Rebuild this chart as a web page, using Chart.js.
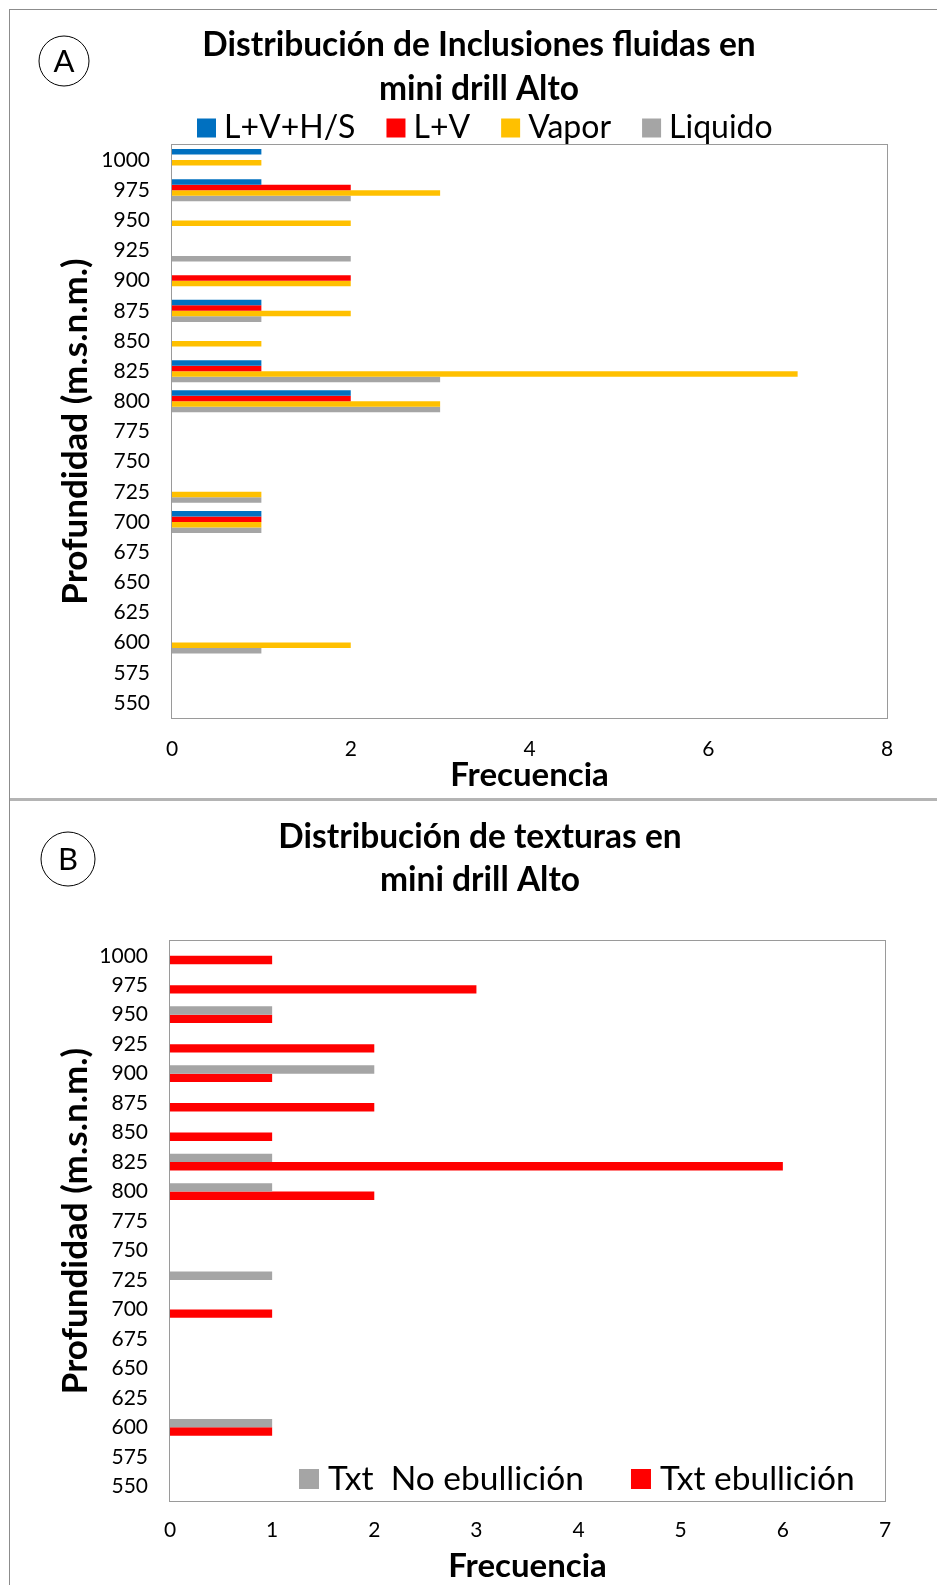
<!DOCTYPE html>
<html lang="es">
<head>
<meta charset="utf-8">
<title>Mini drill Alto</title>
<script src="https://cdn.jsdelivr.net/npm/chart.js@4.4.1/dist/chart.umd.min.js"></script>
<style>
    html, body { margin: 0; padding: 0; background: #fff; width: 937px; height: 1585px; overflow: hidden; }
    .frame { position: absolute; left: 9px; top: 9px; width: 928px; height: 1576px;
             border-left: 1px solid #8c8c8c; border-top: 1px solid #8c8c8c; }
    .split { position: absolute; left: 10px; top: 798px; width: 927px; height: 3px; background: #b4b4b4; }
    canvas { position: absolute; left: 10px; }
    #chartA { top: 10px; }
    #chartB { top: 801px; }
</style>
</head>
<body>
<div class="frame"></div>
<div class="split"></div>
<canvas id="chartA" width="927" height="788"></canvas>
<canvas id="chartB" width="927" height="784"></canvas>

<script>
/* ---------- Data ---------- */
const depths = ['1000', '975', '950', '925', '900', '875', '850', '825', '800', '775',
                '750', '725', '700', '675', '650', '625', '600', '575', '550'];

// A: fluid inclusions per depth
const incLVHS    = [1, 1, 0, 0, 0, 1, 0, 1, 2, 0, 0, 0, 1, 0, 0, 0, 0, 0, 0];
const incLV      = [0, 2, 0, 0, 2, 1, 0, 1, 2, 0, 0, 0, 1, 0, 0, 0, 0, 0, 0];
const incVapor   = [1, 3, 2, 0, 2, 2, 1, 7, 3, 0, 0, 1, 1, 0, 0, 0, 2, 0, 0];
const incLiquido = [0, 2, 0, 2, 0, 1, 0, 3, 3, 0, 0, 1, 1, 0, 0, 0, 1, 0, 0];

// B: textures per depth
const txtNoEbullicion = [0, 0, 1, 0, 2, 0, 0, 1, 1, 0, 0, 1, 0, 0, 0, 0, 1, 0, 0];
const txtEbullicion   = [1, 3, 1, 2, 1, 2, 1, 6, 2, 0, 0, 0, 1, 0, 0, 0, 1, 0, 0];

/* ---------- Look ---------- */
const FONT = 'Lato, "Open Sans", sans-serif';
const INK = '#000';
const COLORS = { blue: '#0070c0', red: '#ff0000', yellow: '#ffc000', gray: '#a5a5a5' };

/* ---------- Plugins ---------- */
// box around the plot area (Excel style)
const plotFrame = {
    id: 'plotFrame',
    beforeDatasetsDraw(chart, args, opts) {
        const { left, top, right, bottom } = chart.chartArea;
        const ctx = chart.ctx;
        ctx.save();
        ctx.strokeStyle = opts.color;
        ctx.lineWidth = 1;
        ctx.strokeRect(Math.round(left) - 0.5, Math.round(top) - 0.5,
                       Math.round(right - left) + 1, Math.round(bottom - top) + 1);
        ctx.restore();
    }
};

// circled panel letter
const panelBadge = {
    id: 'panelBadge',
    afterDraw(chart, args, opts) {
        const ctx = chart.ctx;
        ctx.save();
        ctx.beginPath();
        ctx.arc(opts.x, opts.y, opts.r, 0, Math.PI * 2);
        ctx.strokeStyle = INK;
        ctx.lineWidth = 1;
        ctx.stroke();
        ctx.fillStyle = INK;
        ctx.font = opts.font;
        ctx.textAlign = 'center';
        ctx.textBaseline = 'middle';
        ctx.fillText(opts.text, opts.x, opts.y + 1);
        ctx.restore();
    }
};

// one-row series key, free position
const seriesKey = {
    id: 'seriesKey',
    afterDraw(chart, args, opts) {
        const ctx = chart.ctx;
        ctx.save();
        ctx.font = opts.font;
        ctx.textBaseline = 'middle';
        let x = opts.x;
        chart.data.datasets.forEach(ds => {
            ctx.fillStyle = ds.backgroundColor;
            ctx.fillRect(x, opts.y - opts.box / 2, opts.box, opts.box);
            x += opts.box + opts.gap;
            ctx.fillStyle = INK;
            ctx.fillText(ds.label, x, opts.y);
            x += ctx.measureText(ds.label).width + opts.spacing;
        });
        ctx.restore();
    }
};

/* ---------- Shared pieces ---------- */
function depthAxis(width, titlePad) {
    return {
        grid: { display: false, drawTicks: false },
        border: { display: false },
        ticks: { autoSkip: false, padding: 22, color: INK, font: { family: FONT, size: 21 } },
        title: {
            display: true, text: 'Profundidad (m.s.n.m.)', color: INK,
            font: { family: FONT, size: 35, weight: 'bold', lineHeight: 1 },
            padding: { top: titlePad, bottom: 0 }
        },
        afterFit(scale) { scale.width = width; }
    };
}

function freqAxis(max, step, height, tickPad, titlePad) {
    return {
        min: 0, max: max,
        grid: { display: false, drawTicks: false },
        border: { display: false },
        ticks: { stepSize: step, padding: tickPad, color: INK, font: { family: FONT, size: 21 } },
        title: {
            display: true, text: 'Frecuencia', color: INK,
            font: { family: FONT, size: 33, weight: 'bold', lineHeight: 1 },
            padding: { top: 0, bottom: titlePad }
        },
        afterFit(scale) { scale.height = height; }
    };
}

/* ---------- A: fluid inclusions ---------- */
new Chart(document.getElementById('chartA'), {
    type: 'bar',
    data: {
        labels: depths,
        datasets: [
            { label: 'L+V+H/S', data: incLVHS,    backgroundColor: COLORS.blue },
            { label: 'L+V',     data: incLV,      backgroundColor: COLORS.red },
            { label: 'Vapor',   data: incVapor,   backgroundColor: COLORS.yellow },
            { label: 'Liquido', data: incLiquido, backgroundColor: COLORS.gray }
        ]
    },
    options: {
        indexAxis: 'y',
        responsive: false,
        animation: false,
        categoryPercentage: 0.73,
        barPercentage: 1.0,
        layout: { padding: { left: 61, right: 50, top: 0, bottom: 0 } },
        scales: {
            y: depthAxis(101, -12.5),
            x: freqAxis(8, 2, 80, 19, 6)
        },
        plugins: {
            legend: { display: false },
            tooltip: { enabled: false },
            title: {
                display: true, color: INK,
                text: ['Distribución de Inclusiones fluidas en', 'mini drill Alto'],
                font: { family: FONT, size: 33.5, weight: 'bold', lineHeight: 43.5 / 33.5 },
                padding: { top: 13.5, bottom: 34.5 }
            },
            plotFrame: { color: '#9a9a9a' },
            panelBadge: { text: 'A', x: 54, y: 51, r: 25, font: '31px ' + FONT },
            seriesKey: { x: 187, y: 118, box: 19, gap: 8, spacing: 31, font: '32px ' + FONT }
        }
    },
    plugins: [plotFrame, panelBadge, seriesKey]
});

/* ---------- B: textures ---------- */
new Chart(document.getElementById('chartB'), {
    type: 'bar',
    data: {
        labels: depths,
        datasets: [
            { label: 'Txt  No ebullición', data: txtNoEbullicion, backgroundColor: COLORS.gray },
            { label: 'Txt ebullición',     data: txtEbullicion,   backgroundColor: COLORS.red }
        ]
    },
    options: {
        indexAxis: 'y',
        responsive: false,
        animation: false,
        categoryPercentage: 0.57,
        barPercentage: 1.0,
        layout: { padding: { left: 65, right: 52, top: 0, bottom: 0 } },
        scales: {
            y: depthAxis(95, -16.5),
            x: freqAxis(7, 1, 84, 17, 2)
        },
        plugins: {
            legend: { display: false },
            tooltip: { enabled: false },
            title: {
                display: true, color: INK,
                text: ['Distribución de texturas en', 'mini drill Alto'],
                font: { family: FONT, size: 33.5, weight: 'bold', lineHeight: 43 / 33.5 },
                padding: { top: 14.5, bottom: 39.5 }
            },
            plotFrame: { color: '#9a9a9a' },
            panelBadge: { text: 'B', x: 58, y: 58, r: 27, font: '31px ' + FONT },
            seriesKey: { x: 289, y: 678, box: 20, gap: 9, spacing: 47, font: '33.5px ' + FONT }
        }
    },
    plugins: [plotFrame, panelBadge, seriesKey]
});
</script>
</body>
</html>
